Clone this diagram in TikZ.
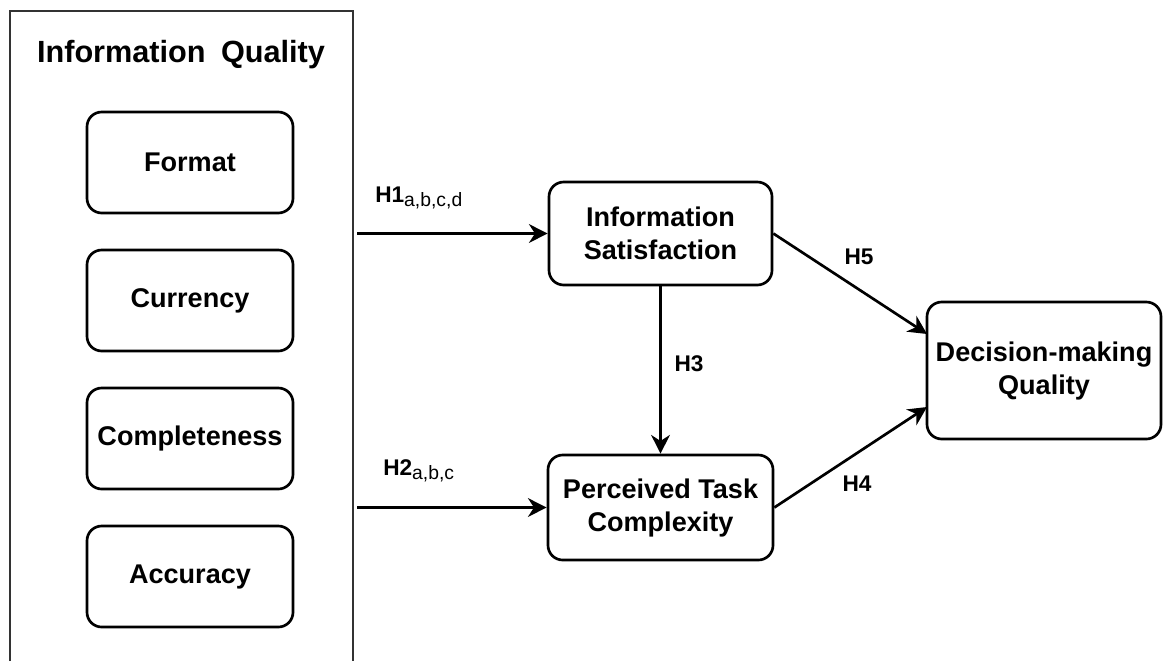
\documentclass[tikz,border=0pt]{standalone}
\usepackage{fontspec}
\setmainfont{Liberation Sans}
\usetikzlibrary{arrows.meta}
\begin{document}
\begin{tikzpicture}[x=0.75pt,y=-0.75pt,
  box/.style={draw, line width=2pt, rounded corners=11pt, align=center,
    font=\fontsize{20.3}{24.75}\selectfont\bfseries, inner sep=0pt},
  leftbox/.style={box, minimum width=154.5pt, minimum height=75.75pt},
  hlab/.style={font=\fontsize{17}{20}\selectfont\bfseries, inner sep=0pt},
  titlelab/.style={font=\fontsize{23}{26}\selectfont\bfseries, inner sep=0pt},
  arr/.style={line width=2pt, -{Stealth[length=14pt,width=14pt,inset=4.5pt]}}]
\useasboundingbox (0,0) rectangle (1163,661);
% outer container (open at the bottom)
\draw[line width=1.1pt, draw=black!80] (10,661) -- (10,11) -- (353,11) -- (353,661);
\node[titlelab, anchor=base] (title) at (181,62) {Information\hspace{0.5em}Quality};
% left boxes
\node[leftbox] (fmt) at (190,162.5) {Format};
\node[leftbox] (cur) at (190,300.5) {Currency};
\node[leftbox] (com) at (190,438.5) {Completeness};
\node[leftbox] (acc) at (190,576.5) {Accuracy};
% right boxes
\node[box, minimum width=167.25pt, minimum height=77.25pt] (is) at (660.5,233.5) {Information\\Satisfaction};
\node[box, minimum width=168.75pt, minimum height=78.75pt] (ptc) at (660.5,507.5) {Perceived Task\\Complexity};
\node[box, minimum width=175.5pt, minimum height=102.75pt] (dmq) at (1044,370.5) {Decision-making\\Quality};
% connectors
\coordinate (h1s) at (357,233.5);
\coordinate (h2s) at (357,507.5);
\coordinate (d5) at (927,334);
\coordinate (d4) at (927,407);
\draw[arr] (h1s) -- (is.west);
\draw[arr] (h2s) -- (ptc.west);
\draw[arr] (is.south) -- (ptc.north);
\draw[arr] (is.east) -- (d5);
\draw[arr] (ptc.east) -- (d4);
% labels
\node[hlab, anchor=base west] (l1) at (375,202) {H1\raisebox{-3pt}{\fontsize{14.5}{15}\selectfont\mdseries a,b,c,d}};
\node[hlab, anchor=base west] (l2) at (383,475) {H2\raisebox{-3pt}{\fontsize{14.5}{15}\selectfont\mdseries a,b,c}};
\node[hlab] (l3) at (689,363.5) {H3};
\node[hlab] (l5) at (859,256.5) {H5};
\node[hlab] (l4) at (857,484) {H4};
\end{tikzpicture}
\end{document}
